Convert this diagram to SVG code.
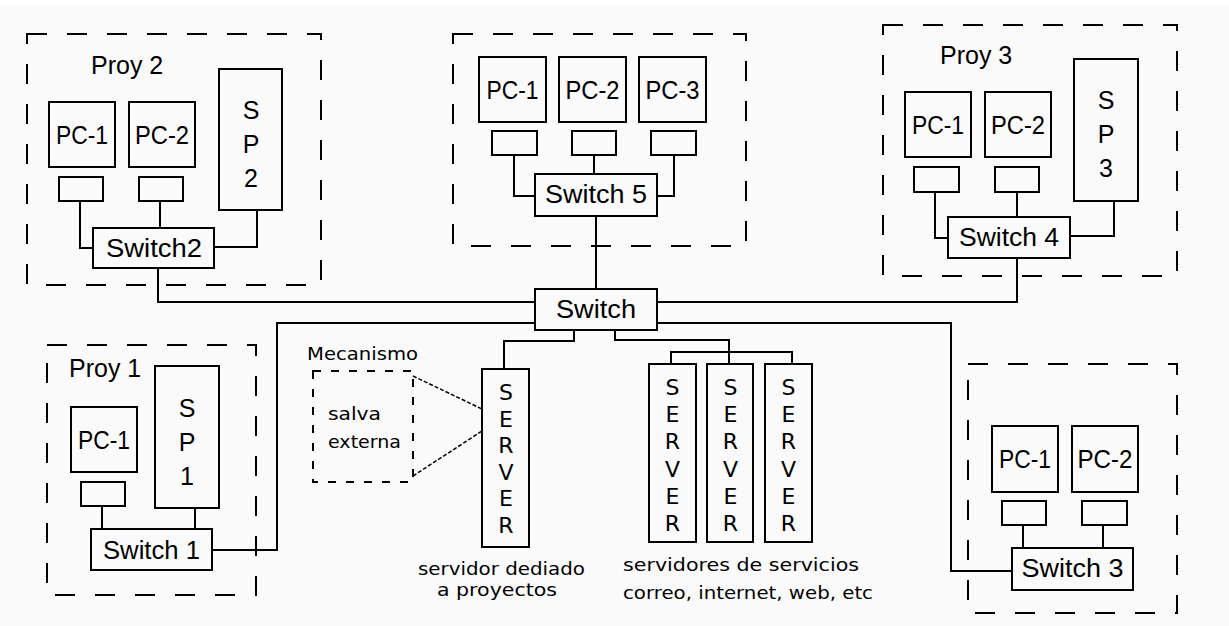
<svg xmlns="http://www.w3.org/2000/svg" width="1229" height="626" viewBox="0 0 1229 626">
<style>
.bx{fill:none;stroke:#000;stroke-width:2}
.dash{fill:none;stroke:#000;stroke-width:2;stroke-dasharray:20 20}
.dsm{fill:none;stroke:#000;stroke-width:2;stroke-dasharray:8 10}
.ln{fill:none;stroke:#000;stroke-width:2}
.thin{fill:none;stroke:#000;stroke-width:1.5;stroke-dasharray:4 2}
.t{font-family:"Liberation Sans",Arial,sans-serif;font-size:25px;fill:#000;text-anchor:middle}
.l{font-family:"Liberation Sans",Arial,sans-serif;font-size:25px;fill:#000}
.p{font-family:"DejaVu Sans",Verdana,sans-serif;font-size:17px;fill:#000}
.sv{font-family:"DejaVu Sans",Verdana,sans-serif;font-size:22px;fill:#000;text-anchor:middle}
</style>
<rect x="0" y="0" width="1229" height="626" fill="#ffffff"/>
<rect x="0" y="5" width="1229" height="621" fill="#fafafa"/>

<g id="connectors">
  <path class="ln" d="M80,201 V248 H93"/>
  <path class="ln" d="M160,201 V228"/>
  <path class="ln" d="M257,210 V247 H214"/>
  <path class="ln" d="M158,268 V302 H535"/>
  <path class="ln" d="M514,155 V196 H535"/>
  <path class="ln" d="M594,155 V174"/>
  <path class="ln" d="M674,155 V196 H657"/>
  <path class="ln" d="M596,216 V289"/>
  <path class="ln" d="M935,192 V238 H948"/>
  <path class="ln" d="M1017,192 V217"/>
  <path class="ln" d="M1114,201 V236 H1070"/>
  <path class="ln" d="M1017,258 V302 H657"/>
  <path class="ln" d="M102,506 V529"/>
  <path class="ln" d="M195,508 V529"/>
  <path class="ln" d="M212,550 H277 V323 H535"/>
  <path class="ln" d="M1023,525 V548"/>
  <path class="ln" d="M1103,525 V548"/>
  <path class="ln" d="M1012,571 H951 V323 H657"/>
  <path class="ln" d="M574,330 V341 H504 V369"/>
  <path class="ln" d="M615,330 V340 H729 V364"/>
  <path class="ln" d="M671,364 V352 H792 V364"/>
  <path class="thin" d="M413,376 L482,409"/>
  <path class="thin" d="M413,476 L482,431"/>
</g>

<g id="proy2">
  <rect class="dash" x="27" y="34" width="294" height="251"/>
  <text class="l" x="91" y="74">Proy 2</text>
</g>
<g id="proy2-pc1"><rect class="bx" x="49" y="102" width="66" height="65"/><text class="t" x="82" y="144" textLength="52" lengthAdjust="spacingAndGlyphs">PC-1</text></g>
<g id="proy2-pc2"><rect class="bx" x="129" y="102" width="66" height="65"/><text class="t" x="162" y="144" textLength="54" lengthAdjust="spacingAndGlyphs">PC-2</text></g>
<g id="proy2-nic1"><rect class="bx" x="59" y="177" width="44" height="24"/></g>
<g id="proy2-nic2"><rect class="bx" x="139" y="177" width="44" height="24"/></g>
<g id="sp2"><rect class="bx" x="219" y="69" width="63" height="141"/>
  <text class="t" x="251" y="119">S</text><text class="t" x="251" y="153">P</text><text class="t" x="251" y="187">2</text></g>
<g id="switch2"><rect class="bx" x="93" y="228" width="121" height="40"/><text class="t" x="154" y="257" textLength="96" lengthAdjust="spacingAndGlyphs">Switch2</text></g>

<g id="proy5"><rect class="dash" x="453" y="34" width="293" height="212"/></g>
<g id="proy5-pc1"><rect class="bx" x="479" y="57" width="67" height="65"/><text class="t" x="512.5" y="99" textLength="52" lengthAdjust="spacingAndGlyphs">PC-1</text></g>
<g id="proy5-pc2"><rect class="bx" x="559" y="57" width="67" height="65"/><text class="t" x="592.5" y="99" textLength="54" lengthAdjust="spacingAndGlyphs">PC-2</text></g>
<g id="proy5-pc3"><rect class="bx" x="639" y="57" width="67" height="65"/><text class="t" x="672.5" y="99" textLength="54" lengthAdjust="spacingAndGlyphs">PC-3</text></g>
<g id="proy5-nic1"><rect class="bx" x="492" y="131" width="45" height="24"/></g>
<g id="proy5-nic2"><rect class="bx" x="572" y="131" width="44" height="24"/></g>
<g id="proy5-nic3"><rect class="bx" x="651" y="131" width="45" height="24"/></g>
<g id="switch5"><rect class="bx" x="535" y="174" width="122" height="42"/><text class="t" x="596" y="203" textLength="102" lengthAdjust="spacingAndGlyphs">Switch 5</text></g>

<g id="switch"><rect class="bx" x="535" y="289" width="122" height="41"/><text class="t" x="596" y="318" textLength="80" lengthAdjust="spacingAndGlyphs">Switch</text></g>

<g id="proy3">
  <rect class="dash" x="883" y="25" width="294" height="251"/>
  <text class="l" x="940" y="64">Proy 3</text>
</g>
<g id="proy3-pc1"><rect class="bx" x="905" y="92" width="66" height="65"/><text class="t" x="938" y="134" textLength="52" lengthAdjust="spacingAndGlyphs">PC-1</text></g>
<g id="proy3-pc2"><rect class="bx" x="985" y="92" width="66" height="65"/><text class="t" x="1018" y="134" textLength="54" lengthAdjust="spacingAndGlyphs">PC-2</text></g>
<g id="proy3-nic1"><rect class="bx" x="914" y="167" width="45" height="25"/></g>
<g id="proy3-nic2"><rect class="bx" x="995" y="167" width="44" height="25"/></g>
<g id="sp3"><rect class="bx" x="1074" y="59" width="64" height="142"/>
  <text class="t" x="1106" y="109">S</text><text class="t" x="1106" y="143">P</text><text class="t" x="1106" y="177">3</text></g>
<g id="switch4"><rect class="bx" x="948" y="217" width="122" height="41"/><text class="t" x="1009" y="246" textLength="100" lengthAdjust="spacingAndGlyphs">Switch 4</text></g>

<g id="proy1">
  <rect class="dash" x="47" y="345" width="209" height="250"/>
  <text class="l" x="69" y="377">Proy 1</text>
</g>
<g id="proy1-pc1"><rect class="bx" x="71" y="407" width="66" height="65"/><text class="t" x="104" y="449" textLength="52" lengthAdjust="spacingAndGlyphs">PC-1</text></g>
<g id="proy1-nic1"><rect class="bx" x="81" y="482" width="44" height="24"/></g>
<g id="sp1"><rect class="bx" x="155" y="366" width="64" height="142"/>
  <text class="t" x="187" y="417">S</text><text class="t" x="187" y="451">P</text><text class="t" x="187" y="485">1</text></g>
<g id="switch1"><rect class="bx" x="91" y="529" width="121" height="41"/><text class="t" x="151.5" y="559" textLength="97" lengthAdjust="spacingAndGlyphs">Switch 1</text></g>

<g id="proy4"><rect class="dash" x="968" y="364" width="209" height="249"/></g>
<g id="proy4-pc1"><rect class="bx" x="992" y="426" width="66" height="66"/><text class="t" x="1025" y="468" textLength="52" lengthAdjust="spacingAndGlyphs">PC-1</text></g>
<g id="proy4-pc2"><rect class="bx" x="1072" y="426" width="66" height="66"/><text class="t" x="1105" y="468" textLength="55" lengthAdjust="spacingAndGlyphs">PC-2</text></g>
<g id="proy4-nic1"><rect class="bx" x="1002" y="501" width="44" height="24"/></g>
<g id="proy4-nic2"><rect class="bx" x="1082" y="501" width="45" height="24"/></g>
<g id="switch3"><rect class="bx" x="1012" y="548" width="121" height="42"/><text class="t" x="1072.5" y="577" textLength="102" lengthAdjust="spacingAndGlyphs">Switch 3</text></g>

<g id="mecanismo">
  <text class="p" x="307" y="360" textLength="111" lengthAdjust="spacingAndGlyphs">Mecanismo</text>
  <rect class="dsm" x="313" y="371" width="100" height="111"/>
  <text class="p" x="328" y="420" textLength="53" lengthAdjust="spacingAndGlyphs">salva</text>
  <text class="p" x="328" y="448" textLength="73" lengthAdjust="spacingAndGlyphs">externa</text>
</g>

<g id="server-dedicado">
  <rect class="bx" x="482" y="369" width="47" height="178"/>
  <text class="sv" x="506" y="400">S</text><text class="sv" x="506" y="427">E</text><text class="sv" x="506" y="453">R</text>
  <text class="sv" x="506" y="480">V</text><text class="sv" x="506" y="506">E</text><text class="sv" x="506" y="533">R</text>
  <text class="p" x="418" y="575" textLength="167" lengthAdjust="spacingAndGlyphs">servidor dediado</text>
  <text class="p" x="437" y="596" textLength="120" lengthAdjust="spacingAndGlyphs">a proyectos</text>
</g>

<g id="server-a">
  <rect class="bx" x="649" y="364" width="47" height="178"/>
  <text class="sv" x="672.5" y="395">S</text><text class="sv" x="672.5" y="422">E</text><text class="sv" x="672.5" y="449">R</text>
  <text class="sv" x="672.5" y="477">V</text><text class="sv" x="672.5" y="504">E</text><text class="sv" x="672.5" y="531">R</text>
</g>
<g id="server-b">
  <rect class="bx" x="707" y="364" width="46" height="178"/>
  <text class="sv" x="730.5" y="395">S</text><text class="sv" x="730.5" y="422">E</text><text class="sv" x="730.5" y="449">R</text>
  <text class="sv" x="730.5" y="477">V</text><text class="sv" x="730.5" y="504">E</text><text class="sv" x="730.5" y="531">R</text>
</g>
<g id="server-c">
  <rect class="bx" x="765" y="364" width="47" height="178"/>
  <text class="sv" x="788.5" y="395">S</text><text class="sv" x="788.5" y="422">E</text><text class="sv" x="788.5" y="449">R</text>
  <text class="sv" x="788.5" y="477">V</text><text class="sv" x="788.5" y="504">E</text><text class="sv" x="788.5" y="531">R</text>
</g>
<g id="servidores-label">
  <text class="p" x="623" y="571" textLength="236" lengthAdjust="spacingAndGlyphs">servidores de servicios</text>
  <text class="p" x="623" y="599" textLength="250" lengthAdjust="spacingAndGlyphs">correo, internet, web, etc</text>
</g>
</svg>
